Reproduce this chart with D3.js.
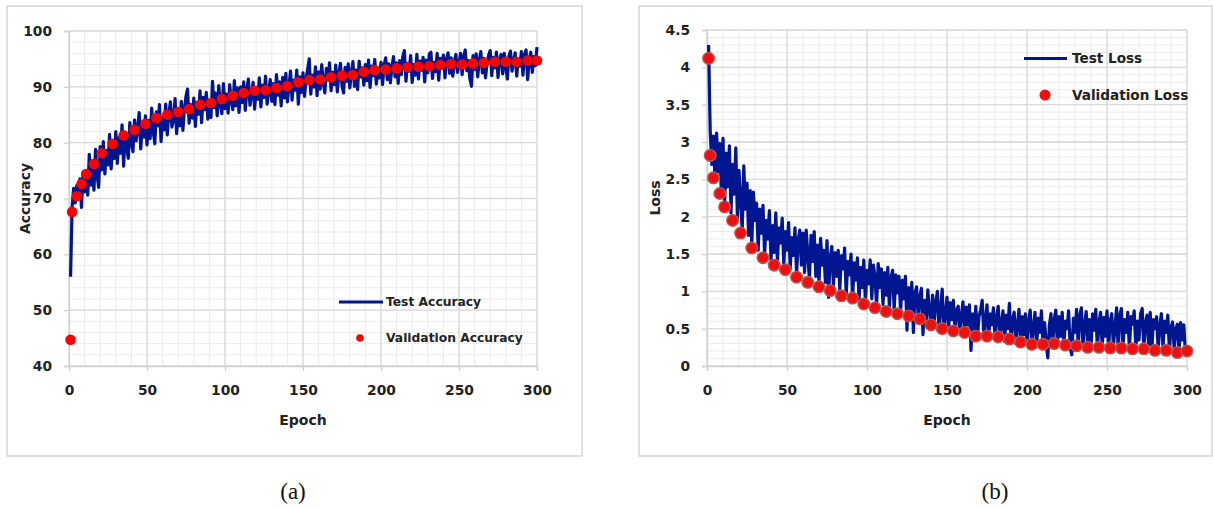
<!DOCTYPE html>
<html><head><meta charset="utf-8">
<script src="https://cdn.jsdelivr.net/npm/d3@7"></script>
<style>
html,body{margin:0;padding:0;background:#fff;}
svg{display:block;}
</style></head>
<body>
<svg id="c" width="1213" height="509"></svg>
<script>
// ---------- DATA ----------
const xTicks = [0, 50, 100, 150, 200, 250, 300];
const accTicks = [40, 50, 60, 70, 80, 90, 100];
const lossTicks = [0, 0.5, 1, 1.5, 2, 2.5, 3, 3.5, 4, 4.5];

// Test accuracy, epochs 1..300
const testAcc = [
56.0, 68.5, 71.8, 69.2, 72.3, 70.1, 73.5, 68.4, 74.6, 71.2,
73.8, 70.6, 77.9, 72.4, 76.1, 71.5, 78.8, 74.2, 72.0, 79.3,
75.1, 80.2, 74.4, 78.6, 76.0, 81.5, 75.3, 79.4, 77.2, 82.0,
76.3, 80.9, 78.1, 83.2, 75.8, 81.6, 79.0, 77.2, 83.6, 79.9,
78.4, 84.1, 80.3, 82.6, 85.4, 78.9, 83.3, 81.0, 84.8, 79.6,
84.0, 80.7, 86.2, 82.1, 79.8, 85.5, 83.0, 86.8, 80.2, 84.6,
82.3, 86.9, 81.4, 85.2, 87.3, 82.8, 84.1, 87.9, 81.6, 85.8,
83.0, 87.4, 82.2, 86.1, 88.3, 89.6, 83.5, 86.8, 84.4, 88.0,
82.9, 87.2, 85.1, 89.3, 83.6, 88.1, 85.9, 89.0, 84.2, 87.6,
84.5, 91.0, 86.3, 88.9, 84.8, 90.2, 87.0, 85.2, 90.6, 86.1,
88.7, 85.3, 90.4, 87.5, 85.9, 91.1, 86.6, 89.8, 85.4, 90.0,
87.2, 90.9, 85.8, 89.5, 91.4, 86.7, 88.6, 90.8, 86.0, 89.9,
87.8, 91.6, 86.4, 90.3, 88.1, 91.9, 86.9, 89.2, 91.3, 87.4,
90.6, 86.8, 92.2, 88.5, 90.9, 86.6, 91.7, 88.0, 92.4, 87.3,
90.1, 92.8, 87.6, 91.2, 89.4, 93.0, 86.9, 91.8, 89.0, 92.5,
88.3, 91.5, 93.2, 95.0, 88.7, 92.1, 90.0, 93.6, 88.4, 92.7,
89.6, 94.0, 90.8, 88.9, 93.3, 91.2, 94.3, 89.3, 92.6, 90.4,
93.9, 89.1, 92.3, 94.2, 90.2, 88.9, 93.5, 91.0, 94.1, 89.8,
92.4, 94.5, 90.1, 93.0, 89.5, 94.6, 91.8, 93.4, 90.3, 94.0,
91.1, 94.8, 89.9, 93.7, 92.0, 94.9, 90.5, 93.2, 91.6, 94.4,
90.4, 93.9, 95.2, 91.3, 94.1, 90.7, 93.6, 95.4, 91.8, 94.3,
90.6, 94.7, 92.2, 95.5, 96.5, 91.0, 94.2, 92.8, 95.6, 90.8,
94.0, 92.1, 95.8, 91.4, 94.6, 93.0, 95.3, 90.9, 94.8, 92.5,
95.9, 96.2, 91.5, 94.4, 92.7, 96.0, 91.2, 95.1, 93.3, 95.7,
91.6, 94.9, 96.1, 92.4, 95.2, 91.9, 94.5, 95.8, 92.6, 94.0,
96.0, 92.2, 95.4, 96.6, 92.9, 94.7, 91.4, 90.1, 95.6, 93.1,
95.9, 91.8, 94.8, 96.3, 92.5, 95.1, 91.6, 94.3, 95.7, 96.5,
92.0, 95.3, 93.4, 96.2, 91.7, 94.9, 95.8, 92.3, 96.0, 93.5,
91.4, 95.5, 96.4, 92.8, 94.6, 96.1, 91.9, 95.0, 93.7, 96.3,
92.1, 95.8, 96.6, 91.3, 94.9, 96.2, 92.6, 95.4, 93.8, 97.1
];

const accValEpochs = [1, 2, 5, 8, 11, 16, 21, 28, 35, 42, 49, 56, 63, 70, 77, 84, 91, 98, 105, 112, 119, 126, 133, 140, 147, 154, 161, 168, 175, 182, 189, 196, 203, 210, 217, 224, 231, 238, 245, 252, 259, 266, 273, 280, 287, 294, 300];
const valAcc = [44.7, 67.6, 70.4, 72.6, 74.4, 76.2, 78.1, 79.8, 81.3, 82.3,
83.4, 84.4, 85.0, 85.5, 86.0, 86.8, 87.1, 87.8, 88.4, 88.9,
89.3, 89.4, 89.8, 90.1, 90.8, 91.2, 91.3, 91.7, 92.0, 92.1,
92.7, 93.0, 93.1, 93.3, 93.5, 93.6, 93.7, 93.9, 94.1, 94.0,
94.2, 94.3, 94.5, 94.5, 94.5, 94.7, 94.7];

// Test loss, epochs 1..300
const testLoss = [
4.30, 3.15, 2.70, 3.08, 2.48, 3.12, 2.60, 2.98, 2.28, 3.05,
2.15, 2.85, 2.40, 2.95, 2.05, 2.70, 2.30, 2.92, 1.98, 2.62,
2.25, 1.80, 2.68, 2.10, 2.45, 1.75, 2.35, 1.62, 2.33, 1.95,
2.18, 1.55, 2.10, 1.78, 2.15, 1.48, 1.95, 1.70, 2.08, 1.42,
1.88, 1.52, 2.05, 1.40, 1.85, 1.65, 1.98, 1.36, 1.80, 1.55,
1.92, 1.30, 1.72, 1.48, 1.85, 1.22, 1.68, 1.82, 1.35, 1.78,
1.25, 1.82, 1.50, 1.15, 1.75, 1.40, 1.80, 1.20, 1.62, 1.10,
1.71, 1.35, 1.55, 1.12, 1.68, 0.92, 1.45, 1.60, 1.08, 1.52,
1.20, 1.55, 1.02, 1.48, 1.30, 1.58, 0.95, 1.40, 1.22, 1.50,
0.90, 1.38, 1.15, 1.45, 0.88, 1.32, 1.05, 1.42, 0.85, 1.28,
1.10, 1.42, 0.90, 1.35, 1.20, 0.80, 1.37, 1.05, 1.30, 0.82,
1.25, 0.95, 1.32, 0.78, 1.18, 1.28, 0.75, 1.22, 0.98, 1.20,
0.72, 1.15, 0.90, 1.20, 0.48, 1.05, 0.70, 1.12, 0.45, 0.98,
1.06, 0.65, 0.92, 1.04, 0.42, 0.88, 0.60, 1.02, 0.75, 0.52,
0.95, 0.58, 0.85, 1.00, 0.48, 0.78, 1.03, 0.46, 0.70, 0.92,
0.50, 0.85, 0.62, 0.88, 0.44, 0.75, 0.80, 0.45, 0.68, 0.86,
0.42, 0.79, 0.55, 0.82, 0.21, 0.70, 0.48, 0.80, 0.38, 0.66,
0.75, 0.88, 0.40, 0.62, 0.82, 0.36, 0.70, 0.55, 0.78, 0.38,
0.65, 0.80, 0.37, 0.58, 0.74, 0.33, 0.68, 0.50, 0.84, 0.34,
0.62, 0.72, 0.30, 0.55, 0.76, 0.31, 0.66, 0.42, 0.70, 0.28,
0.60, 0.75, 0.29, 0.52, 0.72, 0.27, 0.64, 0.45, 0.74, 0.26,
0.58, 0.30, 0.11, 0.55, 0.70, 0.25, 0.62, 0.75, 0.28, 0.66,
0.40, 0.72, 0.26, 0.60, 0.50, 0.74, 0.24, 0.15, 0.64, 0.45,
0.76, 0.25, 0.68, 0.78, 0.23, 0.55, 0.73, 0.30, 0.62, 0.24,
0.70, 0.48, 0.76, 0.22, 0.58, 0.72, 0.25, 0.65, 0.40, 0.74,
0.23, 0.60, 0.70, 0.26, 0.52, 0.78, 0.22, 0.68, 0.77, 0.24,
0.62, 0.45, 0.72, 0.21, 0.66, 0.56, 0.74, 0.23, 0.60, 0.35,
0.70, 0.77, 0.22, 0.58, 0.68, 0.28, 0.72, 0.20, 0.62, 0.50,
0.66, 0.21, 0.55, 0.70, 0.24, 0.60, 0.45, 0.68, 0.20, 0.52,
0.59, 0.22, 0.50, 0.56, 0.19, 0.58, 0.35, 0.55, 0.18, 0.20
];

const lossValEpochs = [1, 2, 4, 8, 11, 16, 21, 28, 35, 42, 49, 56, 63, 70, 77, 84, 91, 98, 105, 112, 119, 126, 133, 140, 147, 154, 161, 168, 175, 182, 189, 196, 203, 210, 217, 224, 231, 238, 245, 252, 259, 266, 273, 280, 287, 294, 300];
const valLoss = [4.12, 2.82, 2.52, 2.31, 2.13, 1.95, 1.78, 1.58, 1.45, 1.35,
1.29, 1.19, 1.12, 1.06, 1.01, 0.94, 0.91, 0.83, 0.78, 0.73,
0.70, 0.67, 0.63, 0.55, 0.50, 0.47, 0.45, 0.40, 0.40, 0.39,
0.36, 0.32, 0.29, 0.29, 0.30, 0.28, 0.27, 0.25, 0.25, 0.24,
0.24, 0.23, 0.23, 0.21, 0.21, 0.18, 0.20];

// ---------- DRAW ----------
const svg = d3.select("#c");
const FONT = "'DejaVu Sans', sans-serif";
const LINE = "#001590";

function panel(cfg) {
  const g = svg.append("g");
  g.append("rect").attr("x", cfg.box[0]).attr("y", cfg.box[1])
    .attr("width", cfg.box[2]).attr("height", cfg.box[3])
    .attr("fill", "#fff").attr("stroke", "#d6d6d6").attr("stroke-width", 1.5);

  const x = d3.scaleLinear().domain([0, 300]).range(cfg.xr);
  const y = d3.scaleLinear().domain(cfg.yd).range(cfg.yr);

  const xMinor = d3.range(0, 301, 10);
  const yMinor = d3.range(0, Math.round((cfg.yd[1] - cfg.yd[0]) / cfg.yMinorStep) + 1)
    .map(i => cfg.yd[0] + i * cfg.yMinorStep);
  const grid = g.append("g");
  grid.selectAll(".xm").data(xMinor).join("line")
    .attr("x1", d => x(d)).attr("x2", d => x(d))
    .attr("y1", cfg.yr[0]).attr("y2", cfg.yr[1])
    .attr("stroke", "#ebebeb").attr("stroke-width", 1);
  grid.selectAll(".ym").data(yMinor).join("line")
    .attr("x1", cfg.xr[0]).attr("x2", cfg.xr[1])
    .attr("y1", d => y(d)).attr("y2", d => y(d))
    .attr("stroke", "#ebebeb").attr("stroke-width", 1);
  grid.selectAll(".xM").data(xTicks).join("line")
    .attr("x1", d => x(d)).attr("x2", d => x(d))
    .attr("y1", cfg.yr[0]).attr("y2", cfg.yr[1])
    .attr("stroke", "#d9d9d9").attr("stroke-width", 1.3);
  grid.selectAll(".yM").data(cfg.yTicks).join("line")
    .attr("x1", cfg.xr[0]).attr("x2", cfg.xr[1])
    .attr("y1", d => y(d)).attr("y2", d => y(d))
    .attr("stroke", "#d9d9d9").attr("stroke-width", 1.3);

  const xa = g.append("g").attr("transform", `translate(0,${cfg.yr[0]})`)
    .call(d3.axisBottom(x).tickValues(xTicks).tickSize(5).tickPadding(14).tickFormat(d3.format("d")));
  const ya = g.append("g").attr("transform", `translate(${cfg.xr[0]},0)`)
    .call(d3.axisLeft(y).tickValues(cfg.yTicks).tickSize(5).tickPadding(12).tickFormat(d => String(d)));
  [xa, ya].forEach(a => {
    a.select(".domain").attr("stroke", "#d0d0d0").attr("stroke-width", 1.3);
    a.selectAll(".tick line").attr("stroke", "#d0d0d0").attr("stroke-width", 1.3);
    a.selectAll("text").attr("font-family", FONT).attr("font-weight", "bold")
      .attr("font-size", "13.8px").attr("fill", "#222");
  });

  g.append("text").attr("x", (cfg.xr[0] + cfg.xr[1]) / 2).attr("y", 425)
    .attr("text-anchor", "middle").attr("font-family", FONT).attr("font-weight", "bold")
    .attr("font-size", "14px").attr("fill", "#222").text("Epoch");
  g.append("text").attr("transform", `translate(${cfg.ytx},${(cfg.yr[0] + cfg.yr[1]) / 2}) rotate(-90)`)
    .attr("text-anchor", "middle").attr("font-family", FONT).attr("font-weight", "bold")
    .attr("font-size", "14px").attr("fill", "#222").text(cfg.ytitle);

  const cid = "clip" + cfg.id;
  g.append("clipPath").attr("id", cid).append("rect")
    .attr("x", cfg.xr[0]).attr("y", cfg.yr[1] - 4).attr("width", cfg.xr[1] - cfg.xr[0] + 4)
    .attr("height", cfg.yr[0] - cfg.yr[1] + 4);

  const line = d3.line().x((d, i) => x(i + 1)).y(d => y(d));
  g.append("path").datum(cfg.test).attr("d", line)
    .attr("fill", "none").attr("stroke", LINE).attr("stroke-width", 3.2)
    .attr("stroke-linejoin", "round").attr("clip-path", `url(#${cid})`);

  g.append("g").selectAll("circle").data(cfg.val).join("circle")
    .attr("cx", (d, i) => x(cfg.valEpochs[i])).attr("cy", d => y(d))
    .attr("r", cfg.dotR).attr("fill", cfg.dotFill)
    .attr("stroke", cfg.dotStroke).attr("stroke-width", cfg.dotStroke === "none" ? 0 : 1.4);

  const lg = g.append("g");
  lg.append("line").attr("x1", cfg.leg.lx1).attr("x2", cfg.leg.lx2)
    .attr("y1", cfg.leg.y1).attr("y2", cfg.leg.y1)
    .attr("stroke", LINE).attr("stroke-width", 2.8);
  lg.append("text").attr("x", cfg.leg.tx).attr("y", cfg.leg.y1).attr("dy", "0.36em")
    .attr("font-family", FONT).attr("font-weight", "bold").attr("font-size", cfg.leg.fs)
    .attr("fill", "#222").text(cfg.leg.t1);
  lg.append("circle").attr("cx", cfg.leg.cx).attr("cy", cfg.leg.y2).attr("r", cfg.leg.r)
    .attr("fill", cfg.dotFill).attr("stroke", "none");
  lg.append("text").attr("x", cfg.leg.tx).attr("y", cfg.leg.y2).attr("dy", "0.36em")
    .attr("font-family", FONT).attr("font-weight", "bold").attr("font-size", cfg.leg.fs)
    .attr("fill", "#222").text(cfg.leg.t2);
}

panel({
  id: "a", box: [7, 6, 575, 450],
  xr: [69, 537], yr: [366, 31], yd: [40, 100], yTicks: accTicks, yMinorStep: 2,
  ytitle: "Accuracy", ytx: 30,
  test: testAcc, val: valAcc, valEpochs: accValEpochs,
  dotR: 5.3, dotFill: "#ff0000", dotStroke: "none",
  leg: { lx1: 339, lx2: 383, y1: 302, tx: 386, y2: 338, cx: 360, r: 3.8,
         fs: "12.3px", t1: "Test Accuracy", t2: "Validation Accuracy" }
});

panel({
  id: "b", box: [639, 6, 573, 450],
  xr: [707, 1187], yr: [366, 30], yd: [0, 4.5], yTicks: lossTicks, yMinorStep: 0.1,
  ytitle: "Loss", ytx: 660,
  test: testLoss, val: valLoss, valEpochs: lossValEpochs,
  dotR: 5.8, dotFill: "#ee1010", dotStroke: "#b45a55",
  leg: { lx1: 1024, lx2: 1067, y1: 58.5, tx: 1072, y2: 95, cx: 1045, r: 5.5,
         fs: "13.6px", t1: "Test Loss", t2: "Validation Loss" }
});

svg.append("text").attr("x", 293).attr("y", 499).attr("text-anchor", "middle")
  .attr("font-family", "'Liberation Serif', 'Times New Roman', serif").attr("font-size", "23px")
  .attr("fill", "#111").text("(a)");
svg.append("text").attr("x", 995).attr("y", 499).attr("text-anchor", "middle")
  .attr("font-family", "'Liberation Serif', 'Times New Roman', serif").attr("font-size", "23px")
  .attr("fill", "#111").text("(b)");
</script>
</body></html>
